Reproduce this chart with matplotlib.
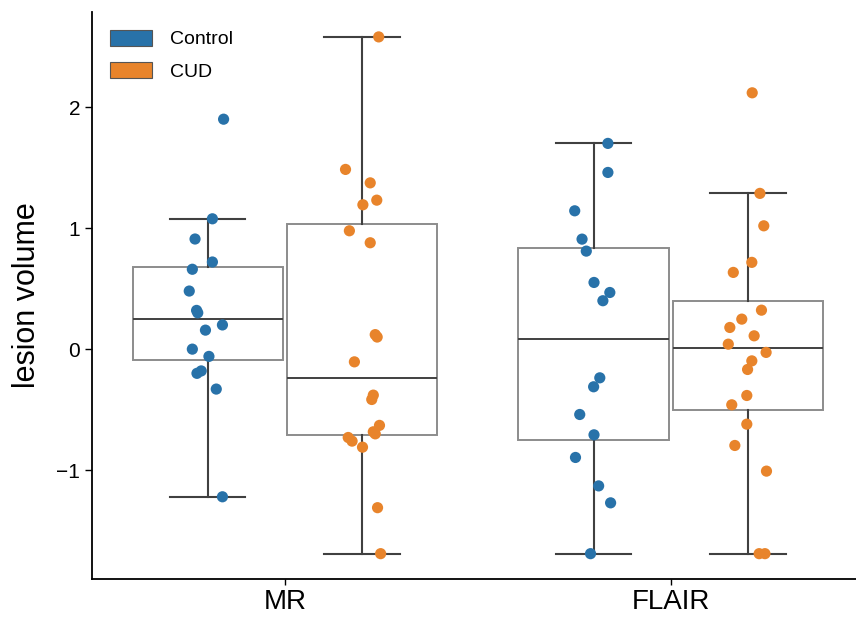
import numpy as np
import matplotlib.pyplot as plt
from matplotlib.patches import Patch

plt.rcParams['font.family'] = ['Liberation Sans', 'DejaVu Sans']

# lesion volume values, with the strip jitter of each point
modalities = ['MR', 'FLAIR']
groups = ['Control', 'CUD']
colors = ['#2872a9', '#e8842b']

mr_control = [1.90, 1.077, 0.91, 0.72, 0.66, 0.48, 0.32, 0.30, 0.20, 0.157,
              0.0, -0.06, -0.18, -0.20, -0.33, -1.22]
mr_control_jit = [0.041, 0.012, -0.033, 0.012, -0.040, -0.048, -0.029, -0.026,
                  0.038, -0.006, -0.040, 0.003, -0.017, -0.028, 0.022, 0.038]

mr_cud = [2.58, 1.485, 1.374, 1.231, 1.193, 0.978, 0.879, 0.12, 0.10, -0.105,
          -0.38, -0.416, -0.63, -0.683, -0.70, -0.73, -0.76, -0.81, -1.31, -1.69]
mr_cud_jit = [0.043, -0.043, 0.021, 0.038, 0.002, -0.033, 0.021, 0.034, 0.039,
              -0.020, 0.029, 0.025, 0.045, 0.029, 0.034, -0.036, -0.026, 0.001,
              0.040, 0.048]

flair_control = [1.70, 1.46, 1.143, 0.909, 0.81, 0.551, 0.468, 0.40, -0.237,
                 -0.311, -0.54, -0.708, -0.895, -1.13, -1.27, -1.69]
flair_control_jit = [0.037, 0.037, -0.049, -0.030, -0.019, 0.001, 0.042, 0.024,
                     0.016, 0.0, -0.036, 0.001, -0.047, 0.013, 0.044, -0.008]

flair_cud = [2.118, 1.287, 1.019, 0.717, 0.634, 0.322, 0.248, 0.179, 0.110,
             0.041, -0.027, -0.097, -0.168, -0.383, -0.46, -0.62, -0.796,
             -1.008, -1.69, -1.69]
flair_cud_jit = [0.011, 0.031, 0.041, 0.010, -0.038, 0.035, -0.016, -0.047,
                 0.016, -0.051, 0.047, 0.010, -0.001, -0.003, -0.042, -0.003,
                 -0.034, 0.048, 0.029, 0.044]

data = {('MR', 'Control'): (mr_control, mr_control_jit),
        ('MR', 'CUD'): (mr_cud, mr_cud_jit),
        ('FLAIR', 'Control'): (flair_control, flair_control_jit),
        ('FLAIR', 'CUD'): (flair_cud, flair_cud_jit)}

fig = plt.figure(figsize=(8.56, 6.2), dpi=100)
ax = fig.add_axes([0.1075, 0.066, 0.8925, 0.9145])

offsets = {'Control': -0.2, 'CUD': 0.2}
box_gray = '#8c8c8c'
dark = '#404040'

for i, mod in enumerate(modalities):
    for g, col in zip(groups, colors):
        vals, jit = data[(mod, g)]
        pos = i + offsets[g]
        ax.boxplot([vals], positions=[pos], widths=0.39, whis=1.5,
                   showfliers=False, patch_artist=True,
                   boxprops=dict(facecolor='white', edgecolor=box_gray, lw=1.4),
                   whiskerprops=dict(color=dark, lw=1.5),
                   capprops=dict(color=dark, lw=1.5),
                   medianprops=dict(color=dark, lw=1.4),
                   zorder=1)
        ax.scatter(pos + np.array(jit), vals, s=65, color=col,
                   edgecolors='none', zorder=3)

ax.set_xlim(-0.5, 1.48)
ax.set_ylim(-1.9, 2.785)
ax.set_xticks([0, 1])
ax.set_xticklabels(modalities, fontsize=20)
ax.set_yticks([-1, 0, 1, 2])
ax.set_yticklabels(['\u22121', '0', '1', '2'], fontsize=15)
ax.set_ylabel('lesion volume', fontsize=22, labelpad=10)
ax.tick_params(axis='y', length=5, width=1)
ax.tick_params(axis='x', length=4, width=1)
for s in ['top', 'right']:
    ax.spines[s].set_visible(False)
for s in ['left', 'bottom']:
    ax.spines[s].set_linewidth(1.3)

handles = [Patch(facecolor=c, edgecolor='#555555', lw=0.8) for c in colors]
ax.legend(handles, groups, loc='upper left', frameon=False, fontsize=14,
          handlelength=2.2, handleheight=0.9, handletextpad=0.9,
          labelspacing=0.7, bbox_to_anchor=(0.0, 1.0))

fig.savefig('out.png', dpi=100)
